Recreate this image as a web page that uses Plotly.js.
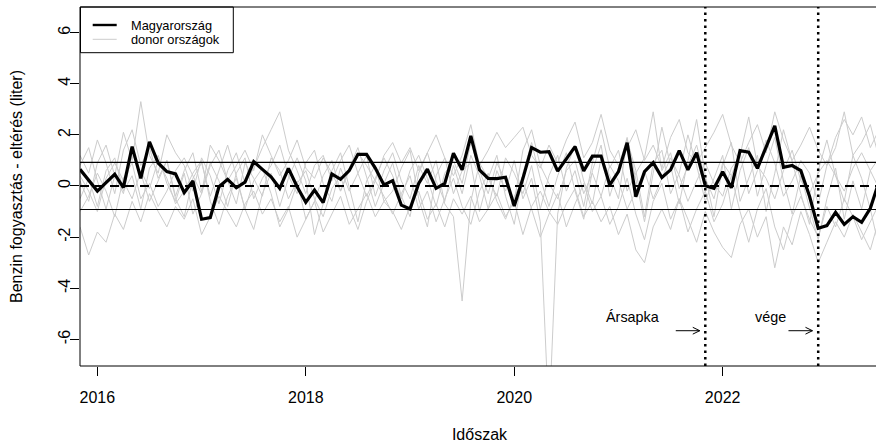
<!DOCTYPE html>
<html>
<head>
<meta charset="utf-8">
<script src="https://cdn.plot.ly/plotly-3.0.1.min.js"></script>
<style>
  html, body { margin: 0; padding: 0; overflow: hidden; background: #fff; }
  #chart { width: 879px; height: 443px; }
</style>
</head>
<body>
<div id="chart"></div>
<script>
// Monthly series, first observation November 2015
const startYear = 2015;
const startMonth = 11;

// Hungary: deviation of petrol consumption from the synthetic control (litres)
const hungary = [
  0.65, 0.22, -0.2, 0.13, 0.46, -0.06, 1.54, 0.3, 1.73, 0.9, 0.56, 0.47,
  -0.26, 0.2, -1.3, -1.24, -0.03, 0.26, -0.07, 0.15, 0.95, 0.65, 0.36, -0.09,
  0.69, -0.03, -0.64, -0.16, -0.65, 0.47, 0.26, 0.6, 1.24, 1.24, 0.7, 0.04,
  0.21, -0.75, -0.9, 0.1, 0.66, -0.09, 0.1, 1.28, 0.63, 1.96, 0.63, 0.3,
  0.29, 0.34, -0.78, 0.3, 1.5, 1.32, 1.34, 0.58, 1.05, 1.54, 0.59, 1.17,
  1.17, 0.04, 0.56, 1.69, -0.42, 0.56, 0.91, 0.33, 0.63, 1.38, 0.63, 1.3,
  0.01, -0.09, 0.56, -0.07, 1.38, 1.32, 0.69, 1.5, 2.35, 0.73, 0.8, 0.6,
  -0.4, -1.65, -1.55, -1.03, -1.5, -1.2, -1.42, -0.87, 0.17
];

// Donor countries (placebo gaps)
const donorA = [
  -0.5, 0.3, -0.8, 0.6, 1.1, -0.2, 0.4, -0.9, 0.7, 1.2, 0.1, -0.6,
  0.5, -1.1, -0.3, 0.8, 1.4, 0.2, -0.7, 0.9, 0.3, -0.4, 1.1, 0.6,
  -0.5, 0.2, -1.3, -0.6, 0.4, 1.0, -0.2, 0.7, 1.5, 0.3, -0.8, 0.1,
  0.9, -0.4, -1.2, 0.5, 1.3, 0.2, -0.6, 0.8, -0.3, 1.2, 0.4, -0.9,
  0.6, -0.2, 1.0, -0.5, 0.3, -1.4, -9.2, -1.1, 0.7, 1.6, 0.2, -0.7,
  1.1, 0.4, -0.5, 1.8, 0.6, -1.2, 0.9, 1.4, -0.3, 0.5, 2.0, 0.8,
  -0.6, 0.3, 1.2, -0.9, 0.6, 1.5, -0.4, 0.8, 1.9, 0.2, -1.1, 0.4,
  -0.8, -2.1, -0.5, 0.7, -1.3, 0.2, -0.9, 0.6, 1.1
];
const donorB = [
  1.2, 0.5, 1.8, 0.9, -0.3, 1.4, 2.2, 0.8, 1.5, 0.3, 1.0, -0.4,
  0.6, 1.3, -0.2, 0.9, 0.2, -0.8, 0.5, 1.1, -0.5, 0.3, 0.8, 1.6,
  0.4, -0.3, 0.9, 1.4, 0.1, -0.6, 0.7, -0.2, 0.5, 1.2, -0.4, 0.6,
  1.3, 0.2, -0.5, 0.8, 0.1, 1.0, -0.7, -1.2, -4.5, -0.6, 0.9, 0.3,
  -0.4, 1.1, 0.5, -0.3, 0.8, -0.9, 0.4, 1.2, -0.2, 0.6, -0.8, 0.9,
  2.2, 0.7, 1.4, -0.2, 0.5, 1.1, 2.9, 0.6, 1.3, -0.1, 0.8, 1.6,
  0.3, -0.5, 0.9, 0.4, 1.3, -0.3, 0.6, 1.8, 0.9, -0.4, 0.2, 1.0,
  0.5, -0.7, 0.8, 1.5, 2.9, 1.2, 1.7, 2.4, 1.1
];
const donorC = [
  0.2, -0.6, 0.9, 1.6, 0.4, 2.1, 1.0, 3.3, 1.2, 0.5, 2.0, 1.3,
  0.8, -0.2, 1.1, 0.4, -0.7, 0.6, 1.3, 0.1, 0.7, 1.5, 2.2, 2.9,
  1.4, 0.6, -0.3, 0.8, 1.2, 0.2, 1.0, 1.6, 0.5, -0.4, 0.3, 1.1,
  0.4, -0.5, 0.6, 1.2, 0.3, -0.8, 0.5, 1.0, 0.1, 1.7, 0.6, -0.3,
  0.9, 0.2, -0.6, 1.4, 2.2, 0.8, 0.1, -0.5, 0.6, 1.0, -0.3, 0.5,
  -0.4, 0.8, 0.2, -0.9, -0.2, 0.6, -0.5, 0.3, 1.1, 0.4, -0.6, 0.2,
  0.9, 0.1, -0.4, 0.7, 1.2, 2.7, 0.8, 0.3, -0.5, 0.6, 1.4, 0.2,
  -0.3, 0.5, 1.0, 0.4, -0.2, 0.7, 1.3, 0.6, -0.1
];
const donorD = [
  -1.6, -2.7, -1.8, -2.2, -1.1, -1.7, -0.6, -1.4, -0.3, -1.0, -1.6, -0.8,
  -1.3, -0.5, -1.9, -1.2, -0.4, -1.0, -1.6, -0.7, -0.2, -1.1, -0.5, -1.4,
  -0.8, -2.0, -1.3, -0.6, -1.8, -1.1, -0.4, -1.5, -0.9, -0.3, -1.2, -0.6,
  -1.0, -1.7, -0.8, -0.2, -1.3, -0.7, -1.6, -0.5, -1.1, -0.4, -1.4, -0.9,
  -0.3, -1.2, -0.6, -1.9, -0.8, -0.2, -1.0, -1.5, -0.7, -0.1, -1.2, -0.6,
  -1.4, -0.8, -1.9, -1.1, -2.5, -3.0, -1.6, -0.9, -1.7, -0.5, -1.3, -2.2,
  -1.0, -1.8, -2.4, -2.8, -1.5, -0.9, -2.0, -1.2, -3.2, -1.6, -2.3, -1.0,
  -1.9, -3.0, -2.2, -1.4, -2.0, -1.1, -1.8, -2.5, -1.3
];
const donorE = [
  0.8, 1.5, 0.2, -0.9, 0.4, -0.3, 1.3, 0.5, -0.6, 0.2, 1.0, -0.5,
  -1.2, 0.3, 0.9, -0.4, 0.6, 1.6, 0.4, -0.9, -1.7, -0.3, 0.5, -0.8,
  0.3, 1.1, 0.2, -1.9, -0.7, 0.6, 1.3, -0.1, -1.4, 0.2, 0.8, -0.6,
  -0.2, 0.7, 1.4, -0.5, -1.6, 0.4, 1.1, -0.3, 0.6, 0.9, -1.0, 0.3,
  1.2, -0.4, -1.5, 0.5, 1.7, 0.3, -0.8, 0.4, 1.3, -0.2, -1.3, 0.6,
  1.6, -0.4, 0.7, 1.9, 0.2, -1.4, 0.5, 2.3, 0.8, -0.7, 1.0, 2.6,
  0.4, -1.2, 0.8, 1.7, -0.6, 0.3, 1.2, -1.0, 0.5, 2.2, 0.9, -0.3,
  -1.5, 0.6, 1.8, 0.4, -0.6, 1.2, 0.3, -0.9, -2.4
];
const donorF = [
  -1.0, -0.4, 0.5, -0.2, -1.2, 0.3, 0.9, -0.5, 0.1, -0.8, -0.2, 0.6,
  1.1, 0.4, -0.3, 1.6, 1.0, 0.2, 0.8, 1.4, 0.6, 2.0, 1.2, 0.4,
  1.0, 1.8, 0.7, 0.3, 1.1, 0.5, -0.2, 0.6, 1.3, 0.8, 0.2, 1.2,
  1.7, 0.9, 1.5, 0.6, 1.3, 2.0, 1.1, 0.4, 1.2, 2.4, 0.8, 1.4,
  2.1, 1.5, 1.9, 2.3, 1.2, 0.7, 1.6, 0.9, 1.8, 2.5, 1.1, 1.7,
  2.8, 1.4, 0.8, 1.5, 2.2, 1.0, 1.6, 0.7, 1.9, 2.6, 1.3, 0.9,
  1.5, 2.1, 2.8, 1.6, 0.9, 1.7, 2.4, 1.3, 2.9, 1.8, 1.0, 1.6,
  2.3, 1.4, 0.8, 1.9, 2.6, 2.0, 2.7, 1.5, 2.2
];
const donorG = [
  0.4, -0.2, -1.0, 0.3, 0.9, 0.2, -0.5, 0.6, -0.1, 1.0, 0.3, -0.7,
  -0.2, 0.5, 1.0, -0.6, -1.5, -0.4, 0.3, -0.9, 0.2, 0.7, -0.3, -1.6,
  -0.9, 0.1, 0.6, -0.5, -1.2, -0.1, 0.4, -0.8, -1.7, -0.6, 0.2, -0.4,
  -1.1, -0.3, 0.4, -0.9, -0.2, -1.4, -0.5, 0.3, -0.8, -1.5, -0.2, 0.5,
  -0.6, -1.3, -0.4, 0.2, -0.9, -2.0, -1.1, -0.3, -1.6, -0.7, 0.1, -1.0,
  -0.4, -1.5, -0.8, 0.3, -1.1, -2.1, -0.6, 0.1, -1.3, -0.5, -1.8, -0.9,
  -0.2, -1.4, -0.7, 0.4, -1.0, -2.2, -0.9, -0.1, -1.6, -2.5, -1.2, -0.4,
  -1.3, -2.0, -0.8, -1.6, -0.5, -1.2, -2.1, -1.4, -0.7
];
const donors = [donorA, donorB, donorC, donorD, donorE, donorF, donorG];

const bandLevels = [-0.92, 0.92];          // +/- band around zero
const capStart = 2021 + 10 / 12;           // price cap introduced (Nov 2021)
const capEnd = 2022 + 11 / 12;             // price cap ended (Dec 2022)
const yearTicks = [2016, 2018, 2020, 2022];
const yTicks = [-6, -4, -2, 0, 2, 4, 6];

const seriesName = 'Magyarország';
const donorName = 'donor országok';

// decimal-year time index
const time = hungary.map((_, i) => startYear + (startMonth - 1 + i) / 12);

const FONT = 'Liberation Sans, Arial, Helvetica, sans-serif';
const GREY = '#cccccc';

const traces = donors.map(d => ({
  type: 'scatter', mode: 'lines', x: time, y: d,
  name: donorName, legendgroup: 'donor', showlegend: false,
  line: { color: GREY, width: 1 }, hoverinfo: 'skip'
}));
traces.push({
  type: 'scatter', mode: 'lines', x: time, y: hungary,
  name: seriesName, showlegend: false,
  line: { color: '#000', width: 3.2, shape: 'linear' }
});

// plot area geometry (pixels) for the hand-drawn legend box
const PL = 80, PW = 799, PT = 7, PH = 359;
const px = x => (x - PL) / PW;
const py = y => 1 - (y - PT) / PH;

const shapes = [];
// reference band and zero line
bandLevels.forEach(v => shapes.push({
  type: 'line', xref: 'paper', x0: 0, x1: 1, yref: 'y', y0: v, y1: v,
  line: { color: '#000', width: 1.2 }
}));
shapes.push({
  type: 'line', xref: 'paper', x0: 0, x1: 1, yref: 'y', y0: 0, y1: 0,
  line: { color: '#000', width: 2.2, dash: '9px,6px' }
});
// price cap start / end
[capStart, capEnd].forEach(t => shapes.push({
  type: 'line', xref: 'x', x0: t, x1: t, yref: 'paper', y0: 0, y1: 1,
  line: { color: '#000', width: 2.5, dash: '2.5px,4px' }
}));
// open arrows pointing at the two dates
[[capStart - 0.053, -5.66], [capEnd - 0.055, -5.66]].forEach(([hx, hy]) => shapes.push({
  type: 'path', xref: 'x', yref: 'y',
  xsizemode: 'pixel', ysizemode: 'pixel', xanchor: hx, yanchor: hy,
  path: 'M-24,0 L0,0 M-7,-3.4 L0,0 L-7,3.4',
  line: { color: '#000', width: 1 }
}));
// frame
shapes.push({
  type: 'rect', xref: 'paper', yref: 'paper', x0: 0, x1: 1, y0: 0, y1: 1,
  line: { color: '#000', width: 1 }
});
// legend
shapes.push({
  type: 'rect', xref: 'paper', yref: 'paper',
  x0: px(80.5), x1: px(233.3), y0: py(52.7), y1: py(7),
  line: { color: '#000', width: 1 }, fillcolor: 'rgba(255,255,255,0)'
});
shapes.push({
  type: 'line', xref: 'paper', yref: 'paper',
  x0: px(92.7), x1: px(116.7), y0: py(25), y1: py(25),
  line: { color: '#000', width: 2.4 }
});
shapes.push({
  type: 'line', xref: 'paper', yref: 'paper',
  x0: px(92.7), x1: px(116.7), y0: py(39.3), y1: py(39.3),
  line: { color: GREY, width: 1 }
});

const annotations = [
  { xref: 'paper', yref: 'paper', x: px(129.3), y: py(25), xanchor: 'left', yanchor: 'middle',
    text: seriesName, showarrow: false, font: { family: FONT, size: 12.8, color: '#000' } },
  { xref: 'paper', yref: 'paper', x: px(129.3), y: py(39.3), xanchor: 'left', yanchor: 'middle',
    text: donorName, showarrow: false, font: { family: FONT, size: 12.8, color: '#000' } },
  { xref: 'x', yref: 'y', x: 2021.133, y: -5.14, xanchor: 'center', yanchor: 'middle',
    text: 'Ársapka', showarrow: false, font: { family: FONT, size: 14.4, color: '#000' } },
  { xref: 'x', yref: 'y', x: 2022.455, y: -5.14, xanchor: 'center', yanchor: 'middle',
    text: 'vége', showarrow: false, font: { family: FONT, size: 14.4, color: '#000' } }
];

const layout = {
  width: 879, height: 443,
  margin: { l: PL, r: 0, t: PT, b: 443 - PT - PH, pad: 0 },
  paper_bgcolor: '#fff', plot_bgcolor: '#fff',
  font: { family: FONT, size: 16, color: '#000' },
  showlegend: false,
  xaxis: {
    range: [time[0], time[time.length - 1]],
    tickmode: 'array', tickvals: yearTicks, ticktext: yearTicks.map(String),
    ticks: 'outside', ticklen: 9, tickwidth: 1, tickcolor: '#000',
    showgrid: false, zeroline: false, showline: false,
    tickfont: { size: 16 }, ticklabelstandoff: 8,
    title: { text: 'Időszak', font: { size: 16 }, standoff: 24 }
  },
  yaxis: {
    range: [-7.04, 7.0],
    tickmode: 'array', tickvals: yTicks, ticktext: yTicks.map(String),
    ticks: 'outside', ticklen: 9, tickwidth: 1, tickcolor: '#000',
    showgrid: false, zeroline: false, showline: false,
    tickangle: -90, tickfont: { size: 16 }, ticklabelstandoff: -6,
    title: { text: 'Benzin fogyasztás - eltérés (liter)', font: { size: 16 }, standoff: 28 }
  },
  shapes: shapes,
  annotations: annotations
};

Plotly.newPlot('chart', traces, layout, { staticPlot: true, displayModeBar: false });
</script>
</body>
</html>
